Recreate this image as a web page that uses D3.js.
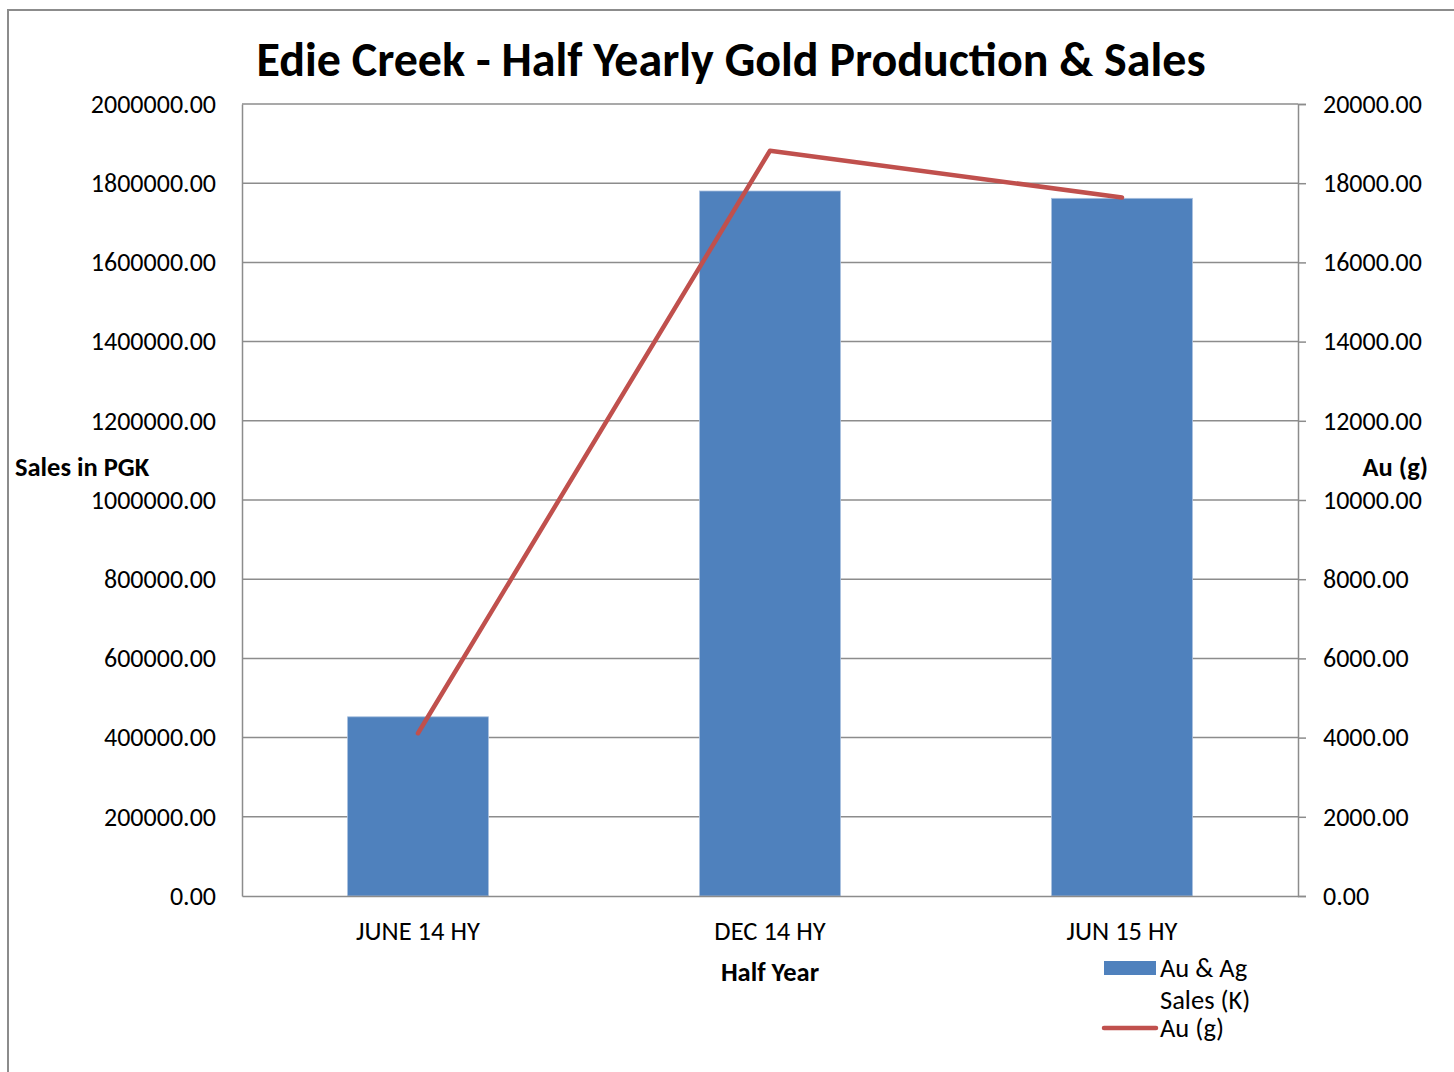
<!DOCTYPE html>
<html>
<head>
<meta charset="utf-8">
<script src="https://cdn.jsdelivr.net/npm/d3@7"></script>
<style>
  html, body { margin: 0; padding: 0; background: #fff; }
  svg { display: block; font-family: Carlito, Lato, "Open Sans", sans-serif; }
</style>
</head>
<body>
<svg id="chart" width="1454" height="1072"></svg>
<script>
const categories = ["JUNE 14 HY", "DEC 14 HY", "JUN 15 HY"];
const salesValues = [452500, 1780300, 1761800];
const auValues = [4110, 18820, 17640];
const leftTicks = [0, 200000, 400000, 600000, 800000, 1000000, 1200000, 1400000, 1600000, 1800000, 2000000];
const rightTicks = [0, 2000, 4000, 6000, 8000, 10000, 12000, 14000, 16000, 18000, 20000];
const titleText = "Edie Creek - Half Yearly Gold Production & Sales";
const legendLabels = [["Au & Ag", "Sales (K)"], ["Au (g)"]];

const FONT = 'Carlito, Lato, "Open Sans", sans-serif';
const svg = d3.select("#chart");
const W = 1454, H = 1072;
const plot = { left: 242, right: 1298, top: 104, bottom: 896 };
const barColor = "#4F81BD", lineColor = "#C0504D", gridColor = "#8C8C8C";
const TS = 26, LS = 26.5;

// outer chart border
svg.append("path")
  .attr("d", `M8,${H} L8,10 L${W},10`)
  .attr("fill", "none").attr("stroke", "#8C8C8C").attr("stroke-width", 2);

const x = d3.scaleBand().domain(categories).range([plot.left, plot.right]).paddingInner(0).paddingOuter(0);
const yL = d3.scaleLinear().domain([0, 2000000]).range([plot.bottom, plot.top]);
const yR = d3.scaleLinear().domain([0, 20000]).range([plot.bottom, plot.top]);

// gridlines
svg.append("g").selectAll("line").data(leftTicks.filter(d => d > 0)).join("line")
  .attr("x1", plot.left).attr("x2", plot.right)
  .attr("y1", d => yL(d)).attr("y2", d => yL(d))
  .attr("stroke", gridColor).attr("stroke-width", 1.5);

// bars
const barW = x.bandwidth() * 0.4;
svg.append("g").selectAll("rect").data(categories).join("rect")
  .attr("x", d => x(d) + x.bandwidth() / 2 - barW / 2)
  .attr("width", barW)
  .attr("y", (d, i) => yL(salesValues[i]))
  .attr("height", (d, i) => plot.bottom - yL(salesValues[i]))
  .attr("fill", barColor)
  .attr("stroke", "#A7BFDE").attr("stroke-width", 0.8);

// left axis
const gL = svg.append("g").attr("transform", `translate(${plot.left},0)`)
  .call(d3.axisLeft(yL).tickValues(leftTicks).tickSize(0).tickPadding(26).tickFormat(d3.format(".2f")))
  .attr("font-family", FONT).attr("font-size", TS);
gL.select(".domain").attr("stroke", gridColor).attr("stroke-width", 1.5);
gL.selectAll("text").attr("fill", "#000");

// right axis
const gR = svg.append("g").attr("transform", `translate(${plot.right},0)`)
  .call(d3.axisRight(yR).tickValues(rightTicks).tickSize(8).tickPadding(17).tickFormat(d3.format(".2f")))
  .attr("font-family", FONT).attr("font-size", TS);
gR.select(".domain").attr("stroke", gridColor).attr("stroke-width", 1.5);
gR.selectAll(".tick line").attr("stroke", gridColor).attr("stroke-width", 1.5);
gR.selectAll("text").attr("fill", "#000");

// bottom axis
const gB = svg.append("g").attr("transform", `translate(0,${plot.bottom})`)
  .call(d3.axisBottom(x).tickSize(0).tickPadding(25))
  .attr("font-family", FONT).attr("font-size", LS);
gB.select(".domain").attr("stroke", gridColor).attr("stroke-width", 1.5);
gB.selectAll("text").attr("fill", "#000");

// line
const line = d3.line().x((d, i) => x(categories[i]) + x.bandwidth() / 2).y(d => yR(d));
svg.append("path").datum(auValues)
  .attr("d", line)
  .attr("fill", "none").attr("stroke", lineColor).attr("stroke-width", 4.5)
  .attr("stroke-linejoin", "round").attr("stroke-linecap", "round");

// title
svg.append("text").attr("x", 731).attr("y", 76).attr("text-anchor", "middle")
  .attr("font-size", 48).attr("font-weight", "bold").text(titleText);

// axis titles
svg.append("text").attr("x", 15).attr("y", 476).attr("font-size", LS).attr("font-weight", "bold").text("Sales in PGK");
svg.append("text").attr("x", 1428).attr("y", 476).attr("text-anchor", "end").attr("font-size", LS).attr("font-weight", "bold").text("Au (g)");
svg.append("text").attr("x", x(categories[1]) + x.bandwidth() / 2).attr("y", 981).attr("text-anchor", "middle")
  .attr("font-size", LS).attr("font-weight", "bold").text("Half Year");

// legend
const lg = svg.append("g");
lg.append("rect").attr("x", 1104).attr("y", 961).attr("width", 52).attr("height", 14).attr("fill", barColor);
lg.append("text").attr("x", 1160).attr("y", 977).attr("font-size", LS).text(legendLabels[0][0]);
lg.append("text").attr("x", 1160).attr("y", 1009).attr("font-size", LS).text(legendLabels[0][1]);
lg.append("line").attr("x1", 1104).attr("x2", 1156).attr("y1", 1028).attr("y2", 1028)
  .attr("stroke", lineColor).attr("stroke-width", 4.5).attr("stroke-linecap", "round");
lg.append("text").attr("x", 1160).attr("y", 1037).attr("font-size", LS).text(legendLabels[1][0]);
</script>
</body>
</html>
